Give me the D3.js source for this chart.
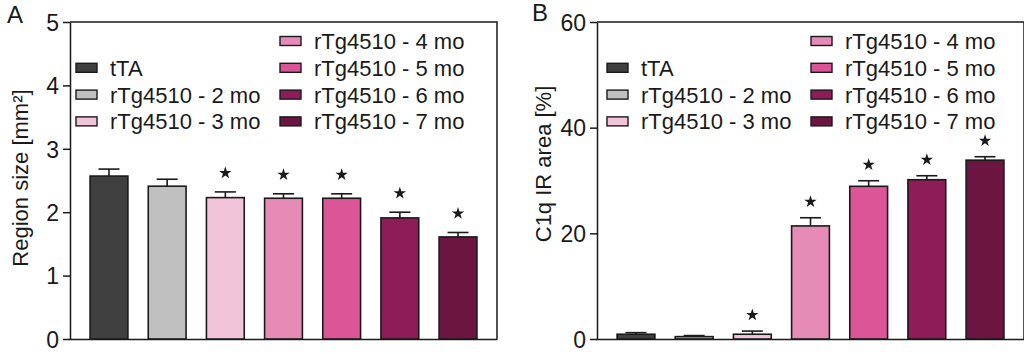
<!DOCTYPE html>
<html>
<head>
<meta charset="utf-8">
<script src="https://cdn.jsdelivr.net/npm/d3@7"></script>
<style>
  body { margin: 0; background: #fff; }
  svg { display: block; font-family: "Liberation Sans", Arial, sans-serif; }
</style>
</head>
<body>
<div id="chart"></div>
<script>
// Groups and colours (same for both panels)
var groups = ["tTA", "rTg4510 - 2 mo", "rTg4510 - 3 mo", "rTg4510 - 4 mo",
              "rTg4510 - 5 mo", "rTg4510 - 6 mo", "rTg4510 - 7 mo"];
var colors = ["#404040", "#c0c0c0", "#f2c4da", "#e68bb6", "#dc5597", "#8e1c58", "#6b1540"];

// Panel A: region size [mm2]
var sizeMean = [2.57, 2.41, 2.23, 2.22, 2.22, 1.91, 1.61];
var sizeErr  = [0.11, 0.11, 0.09, 0.07, 0.07, 0.09, 0.07];
var sizeSig  = [false, false, true, true, true, true, true];
var sizeTicks = [0, 1, 2, 3, 4, 5];

// Panel B: C1q IR area [%]
var c1qMean = [0.9, 0.45, 0.9, 21.4, 28.9, 30.15, 33.85];
var c1qErr  = [0.3, 0.2, 0.6, 1.55, 1.05, 0.75, 0.65];
var c1qSig  = [false, false, true, true, true, true, true];
var c1qTicks = [0, 20, 40, 60];

var W = 1024, H = 354;
var ink = "#1a1a1a";
var fontSize = 22;

var svg = d3.select("#chart").append("svg")
    .attr("width", W)
    .attr("height", H);

function drawPanel(opt) {
    var ox = opt.left;
    var top = 22, bottom = 339, pw = 427;

    var g = svg.append("g");

    var x = d3.scaleBand()
        .domain(groups)
        .range([ox + 9.9, ox + 417.1])
        .paddingInner(0.35)
        .paddingOuter(0.175);

    var y = d3.scaleLinear()
        .domain([0, opt.max])
        .range([bottom, top]);

    // Frame: top and right edges
    g.append("path")
        .attr("d", "M" + ox + "," + top + "H" + (ox + pw) + "V" + bottom)
        .attr("fill", "none")
        .attr("stroke", ink)
        .attr("stroke-width", 1.5);

    // Y axis
    var yAxis = g.append("g")
        .attr("transform", "translate(" + ox + ",0)")
        .call(d3.axisLeft(y).tickValues(opt.ticks).tickFormat(d3.format("d"))
              .tickSize(7).tickSizeOuter(0).tickPadding(4));
    yAxis.select(".domain").attr("stroke", ink).attr("stroke-width", 1.5);
    yAxis.selectAll(".tick line").attr("stroke", ink).attr("stroke-width", 1.5);
    yAxis.selectAll(".tick text")
        .attr("font-size", 23)
        .attr("font-family", "Liberation Sans, Arial, sans-serif")
        .attr("fill", ink)
        .attr("dy", "0.36em");

    // X axis line (no labels)
    var xAxis = g.append("g")
        .attr("transform", "translate(0," + bottom + ")")
        .call(d3.axisBottom(d3.scaleLinear().range([ox - 1, ox + pw])).tickValues([]).tickSizeOuter(0));
    xAxis.select(".domain").attr("stroke", ink).attr("stroke-width", 1.5);

    var data = groups.map(function(d, i) {
        return {name: d, mean: opt.mean[i], err: opt.err[i], sig: opt.sig[i], color: colors[i]};
    });

    // Error bars (upper only)
    var eb = g.append("g").selectAll("g").data(data).enter().append("g");
    eb.append("line")
        .attr("x1", function(d) { return x(d.name) + x.bandwidth() / 2; })
        .attr("x2", function(d) { return x(d.name) + x.bandwidth() / 2; })
        .attr("y1", function(d) { return y(d.mean); })
        .attr("y2", function(d) { return y(d.mean + d.err); })
        .attr("stroke", ink).attr("stroke-width", 1.6);
    eb.append("line")
        .attr("x1", function(d) { return x(d.name) + x.bandwidth() / 2 - 10.5; })
        .attr("x2", function(d) { return x(d.name) + x.bandwidth() / 2 + 10.5; })
        .attr("y1", function(d) { return y(d.mean + d.err); })
        .attr("y2", function(d) { return y(d.mean + d.err); })
        .attr("stroke", ink).attr("stroke-width", 1.6);

    // Bars
    g.append("g").selectAll("rect").data(data).enter().append("rect")
        .attr("x", function(d) { return x(d.name); })
        .attr("y", function(d) { return y(d.mean); })
        .attr("width", x.bandwidth())
        .attr("height", function(d) { return y(0) - y(d.mean); })
        .attr("fill", function(d) { return d.color; })
        .attr("stroke", ink)
        .attr("stroke-width", 1.6);

    // Significance stars
    g.append("g").selectAll("path").data(data.filter(function(d) { return d.sig; })).enter().append("path")
        .attr("d", d3.symbol(d3.symbolStar).size(48))
        .attr("transform", function(d) {
            return "translate(" + (x(d.name) + x.bandwidth() / 2) + "," + (y(d.mean + d.err) - opt.starGap) + ")";
        })
        .attr("fill", ink);

    // Legend: 3 entries on the left, 4 on the right
    var leg = g.append("g").attr("transform", "translate(" + (ox + opt.legendDx) + ",0)");
    var rowH = 26.8;
    data.forEach(function(d, i) {
        var col = i < 3 ? 0 : 1;
        var row = i < 3 ? i + 1 : i - 3;
        var lx = col === 0 ? 6 : 210;
        var ly = 41 + row * rowH;
        leg.append("rect")
            .attr("x", lx).attr("y", ly - 4.5)
            .attr("width", 21).attr("height", 9)
            .attr("fill", d.color)
            .attr("stroke", ink).attr("stroke-width", 1.4);
        leg.append("text")
            .attr("x", lx + 34).attr("y", ly)
            .attr("dy", "0.36em")
            .attr("font-size", fontSize)
            .attr("fill", ink)
            .text(d.name);
    });

    // Y title
    g.append("text")
        .attr("transform", "translate(" + opt.titleX + "," + opt.titleY + ") rotate(-90)")
        .attr("text-anchor", "middle")
        .attr("font-size", fontSize)
        .attr("fill", ink)
        .text(opt.title);

    // Panel letter
    g.append("text")
        .attr("x", opt.letterX).attr("y", opt.letterY)
        .attr("font-size", 24)
        .attr("fill", ink)
        .text(opt.letter);
}

drawPanel({
    left: 70, max: 5, ticks: sizeTicks,
    mean: sizeMean, err: sizeErr, sig: sizeSig,
    starGap: 19, legendDx: 0,
    title: "Region size [mm\u00b2]", titleX: 28, titleY: 178,
    letter: "A", letterX: 7, letterY: 23
});

drawPanel({
    left: 597, max: 60, ticks: c1qTicks,
    mean: c1qMean, err: c1qErr, sig: c1qSig,
    starGap: 16, legendDx: 4,
    title: "C1q IR area [%]", titleX: 551, titleY: 164,
    letter: "B", letterX: 532, letterY: 21
});
</script>
</body>
</html>
